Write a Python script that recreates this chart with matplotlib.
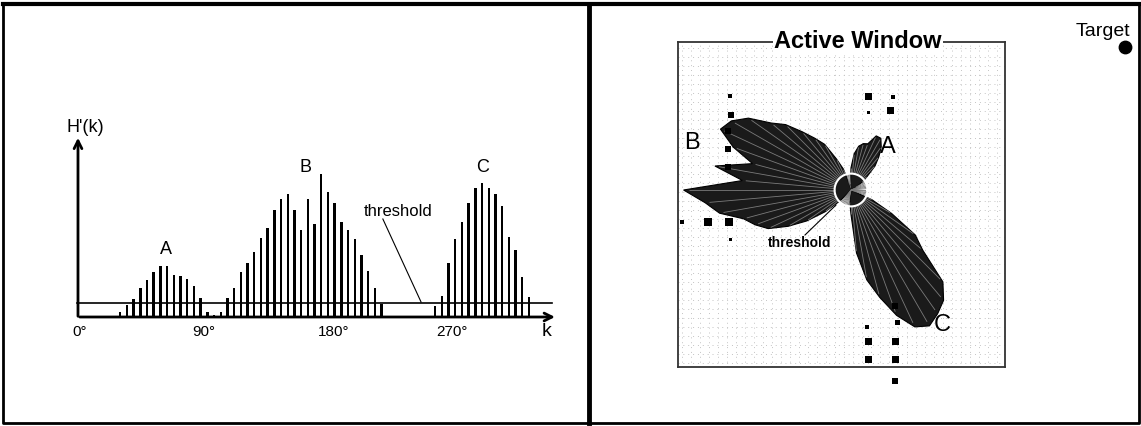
"""
Two-panel sketch: polar obstacle histogram H'(k) with threshold (left),
and the same histogram drawn as lobes inside the active window (right).
"""

import numpy as np
import matplotlib
matplotlib.use('Agg')
import matplotlib.pyplot as plt

plt.rcParams['font.family'] = ['Liberation Sans', 'DejaVu Sans']

# ---- data: H'(k) per 5 degree sector, k = 0..71 ----
H_VALUES = [
    0, 0, 0, 0, 0, 0, 5, 12, 18, 29,
    37, 45, 51, 51, 42, 41, 38, 31, 19, 5,
    2, 5, 19, 29, 45, 54, 65, 79, 89, 107,
    118, 123, 107, 87, 118, 93, 143, 125, 114, 95,
    87, 78, 62, 46, 29, 13, 0, 0, 0, 0,
    0, 0, 0, 11, 21, 54, 78, 95, 114, 129,
    134, 129, 123, 111, 80, 67, 40, 20, 0, 0,
    0, 0,
]
SECTOR_DEG = 5
THRESHOLD = 14

TICK_POS = [0, 18.4, 37.8, 55.5]          # sector index where labels sit
TICK_LABELS = ['0°', '90°', '180°', '270°']

PEAK_LABELS = ['A', 'B', 'C']
PEAK_LABEL_X = [12.8, 33.6, 60.1]
PEAK_LABEL_Y = [68, 150, 151]

# obstacle cells in the active window (pixel coords, side in px)
OBST_X = [730, 731, 868, 893, 868, 890, 728, 728, 728, 708, 729, 682, 730,
          867, 868, 868, 895, 895, 895, 895, 897]
OBST_Y = [97, 116, 97, 98, 113, 111, 132, 150, 168, 223, 223, 223, 240,
          328, 342, 360, 342, 360, 382, 307, 323]
OBST_SIDE = [4, 6, 7, 4, 3, 7, 6, 6, 6, 8, 8, 4, 3,
             4, 7, 7, 7, 7, 6, 6, 5]

W, H = 1141, 427
fig = plt.figure(figsize=(W / 100, H / 100), dpi=100)
fig.patch.set_facecolor('white')


def frac_box(x0, y0, x1, y1):
    return [x0 / W, (H - y1) / H, (x1 - x0) / W, (y1 - y0) / H]


# ---- background frame ----
ax_bg = fig.add_axes([0, 0, 1, 1])
ax_bg.set_xlim(0, W)
ax_bg.set_ylim(H, 0)
ax_bg.axis('off')
ax_bg.plot([3, 1139, 1139, 3, 3], [5, 5, 424, 424, 5], color='black', lw=2)
ax_bg.plot([3, 1139], [5, 5], color='black', lw=3)
ax_bg.plot([589, 589], [5, 424], color='black', lw=3.5)

# ---- left: histogram ----
ax = fig.add_axes(frac_box(60, 120, 570, 345))
ax.patch.set_alpha(0)
ax.set_xlim(-2.985, 73.13)
ax.set_ylim(-27, 198)
ax.axis('off')

k = np.arange(len(H_VALUES))
ax.bar(k, H_VALUES, width=0.36, color='black', zorder=3)

ax.annotate('', xy=(71.3, 0), xytext=(-0.45, 0),
            arrowprops=dict(arrowstyle='->', color='black', lw=2,
                            mutation_scale=14))
ax.annotate('', xy=(-0.3, 182), xytext=(-0.3, -2),
            arrowprops=dict(arrowstyle='->', color='black', lw=2,
                            mutation_scale=14))
ax.plot([-0.45, 70.5], [THRESHOLD, THRESHOLD], color='black', lw=1.2, zorder=4)
ax.plot([45.2, 50.9], [98, 15], color='black', lw=0.8)
ax.text(47.5, 107, 'threshold', fontsize=12, ha='center', va='center')
ax.text(0.75, 190, "H'(k)", fontsize=13, ha='center', va='center')
ax.text(69.7, -14, 'k', fontsize=14, ha='center', va='center')
for pos, lab in zip(TICK_POS, TICK_LABELS):
    ax.text(pos, -14, lab, fontsize=11, ha='center', va='center')
for lab, x, y in zip(PEAK_LABELS, PEAK_LABEL_X, PEAK_LABEL_Y):
    ax.text(x, y, lab, fontsize=13, ha='center', va='center')

# ---- right: active window box with halftone grid ----
ax_win = fig.add_axes(frac_box(678, 43, 1005, 368))
ax_win.set_xlim(0, 327)
ax_win.set_ylim(0, 325)
ax_win.set_xticks(np.arange(4, 327, 9))
ax_win.set_yticks(np.arange(4, 325, 9))
ax_win.tick_params(length=0, labelbottom=False, labelleft=False)
ax_win.grid(True, color='#c4c4c4', lw=0.7, linestyle=(0, (1, 4)))
for sp in ax_win.spines.values():
    sp.set_color('#333333')
    sp.set_linewidth(1.3)

# ---- right: polar histogram lobes ----
ax_p = fig.add_axes(frac_box(666, 6, 1036, 376), projection='polar')
ax_p.patch.set_alpha(0)
theta = np.deg2rad(k * SECTOR_DEG)
h_arr = np.array(H_VALUES, dtype=float)
ax_p.fill(np.append(theta, theta[0]), np.append(h_arr, h_arr[0]),
          color='#1a1a1a', lw=0.8, edgecolor='black')
# radial hatching inside the lobes
ax_p.vlines(theta, THRESHOLD, h_arr * 0.97, color='#7a7a7a', lw=0.6)
circ = np.linspace(0, 2 * np.pi, 100)
ax_p.plot(circ, np.full_like(circ, THRESHOLD), color='white', lw=1.5)
ax_p.set_ylim(0, 158)
ax_p.axis('off')

# ---- right: overlay (obstacles, labels) ----
ax_top = fig.add_axes([0, 0, 1, 1])
ax_top.patch.set_alpha(0)
ax_top.set_xlim(0, W)
ax_top.set_ylim(H, 0)
ax_top.axis('off')
ax_top.scatter(OBST_X, OBST_Y, s=[(s * 0.72) ** 2 for s in OBST_SIDE],
               marker='s', color='black', linewidths=0)
ax_top.text(858, 42, 'Active Window', fontsize=17, fontweight='bold',
            ha='center', va='center',
            bbox=dict(facecolor='white', edgecolor='none', pad=1))
ax_top.text(692, 143, 'B', fontsize=17, ha='center', va='center')
ax_top.text(888, 147, 'A', fontsize=17, ha='center', va='center')
ax_top.text(942, 325, 'C', fontsize=17, ha='center', va='center')
ax_top.text(800, 243, 'threshold', fontsize=10, fontweight='bold',
            ha='center', va='center')
ax_top.plot([805, 836], [236, 206], color='black', lw=0.8)
ax_top.text(1103, 31, 'Target', fontsize=14, ha='center', va='center')
ax_top.scatter([1125], [48], s=80, color='black')

fig.savefig('out.png', dpi=100, facecolor='white')
